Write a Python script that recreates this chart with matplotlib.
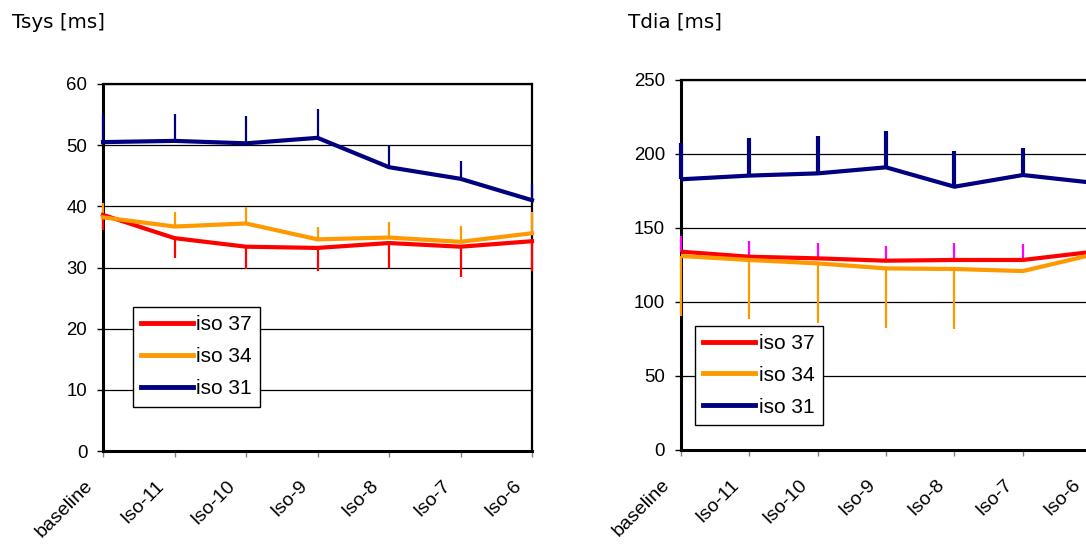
import matplotlib
matplotlib.use("Agg")
import matplotlib.pyplot as plt
import matplotlib.transforms as mtransforms
import numpy as np

categories = ["baseline", "Iso-11", "Iso-10", "Iso-9", "Iso-8", "Iso-7", "Iso-6"]
labels = ["iso 37", "iso 34", "iso 31"]
colors = ["#ff0000", "#ff9900", "#000080"]

# Tsys [ms]
tsys_37 = [38.6, 34.8, 33.4, 33.2, 34.0, 33.4, 34.3]
tsys_34 = [38.2, 36.7, 37.2, 34.6, 34.9, 34.2, 35.6]
tsys_31 = [50.5, 50.7, 50.3, 51.2, 46.4, 44.5, 41.0]
tsys_37_err_down = [2.5, 3.2, 3.7, 3.7, 4.1, 5.0, 4.8]
tsys_34_err_up = [2.4, 2.3, 2.7, 2.1, 2.6, 2.6, 3.4]
tsys_31_err_up = [4.6, 4.4, 4.4, 4.7, 3.4, 2.9, 2.6]

# Tdia [ms]
tdia_37 = [134.0, 130.6, 129.5, 127.9, 128.4, 128.4, 133.8]
tdia_34 = [131.1, 128.4, 126.1, 122.7, 122.3, 120.9, 131.8]
tdia_31 = [182.9, 185.4, 186.9, 191.0, 177.9, 185.8, 180.7]
tdia_37_err_up = [10.6, 10.6, 10.1, 10.2, 11.2, 10.8, 10.0]
tdia_34_err_down = [40.6, 40.1, 40.5, 40.0, 40.8, 0.0, 40.0]
tdia_31_err_up = [24.8, 25.2, 25.3, 24.8, 24.4, 18.0, 22.0]

W, H = 1086, 545
fig = plt.figure(figsize=(W / 100, H / 100), dpi=100)
tick_font = {"family": "Liberation Sans", "size": 13.4}
xlab_font = {"family": "Liberation Sans", "size": 14}


def style_axes(ax, ymax, ystep):
    ax.set_xlim(0, len(categories) - 1)
    ax.set_ylim(0, ymax)
    ax.set_yticks(np.arange(0, ymax + 1, ystep))
    ax.set_xticks(range(len(categories)))
    ax.set_yticklabels([str(int(v)) for v in ax.get_yticks()], fontdict=tick_font)
    ax.grid(axis="y", color="black", lw=0.9)
    ax.set_axisbelow(True)
    ax.tick_params(axis="y", length=4.3, width=1, pad=7, direction="out")
    ax.tick_params(axis="x", length=4.3, width=1, pad=3, direction="out",
                   color="#808080")
    for side in ["left", "bottom"]:
        ax.spines[side].set_linewidth(2.2)
        ax.spines[side].set_color("black")
    for side in ["top", "right"]:
        ax.spines[side].set_linewidth(1.6)
        ax.spines[side].set_color("black")
    ax.set_xticklabels(categories, rotation=45, ha="right", va="center",
                       rotation_mode="anchor", fontdict=xlab_font)
    # Excel puts the rotated labels a bit left of and below the tick
    # (done last: tick_params resets label transforms)
    shift = mtransforms.ScaledTranslation(-13 / 100, -22 / 100, fig.dpi_scale_trans)
    for lab in ax.get_xticklabels():
        lab.set_transform(lab.get_transform() + shift)


def draw_errors(ax, x, y, down, up, color, lw):
    eb = ax.errorbar(x, y, yerr=[down, up], fmt="none", ecolor=color,
                     elinewidth=lw, capsize=0, zorder=3)
    for coll in eb.lines[2]:
        coll.set_clip_on(False)


x = np.arange(len(categories))
zeros = np.zeros(len(categories))

# left panel
ax1 = fig.add_axes([103 / W, 1 - 451 / H, (532 - 103) / W, (451 - 84) / H])
draw_errors(ax1, x, tsys_31, zeros, tsys_31_err_up, colors[2], 1.6)
draw_errors(ax1, x, tsys_34, zeros, tsys_34_err_up, colors[1], 1.6)
draw_errors(ax1, x, tsys_37, tsys_37_err_down, zeros, colors[0], 1.6)
for vals, lab, col in zip([tsys_37, tsys_34, tsys_31], labels, colors):
    ax1.plot(x, vals, color=col, lw=3, label=lab, zorder=4, clip_on=False)
style_axes(ax1, 60, 10)

# right panel (cut off on the right, as in the source)
ax2 = fig.add_axes([680.7 / W, 1 - 450 / H, (1091.3 - 680.7) / W, (450 - 80) / H])
draw_errors(ax2, x, tdia_31, zeros, tdia_31_err_up, colors[2], 3.0)
draw_errors(ax2, x, tdia_37, zeros, tdia_37_err_up, "#ff00ff", 1.6)
draw_errors(ax2, x, tdia_34, tdia_34_err_down, zeros, colors[1], 1.6)
for vals, lab, col in zip([tdia_37, tdia_34, tdia_31], labels, colors):
    ax2.plot(x, vals, color=col, lw=3, label=lab, zorder=4)
style_axes(ax2, 250, 50)

leg_kw = dict(loc="lower left", borderaxespad=0, fancybox=False,
              framealpha=1, edgecolor="black", handlelength=2.5,
              handletextpad=0.15, labelspacing=0.62, borderpad=0.4,
              prop={"family": "Liberation Sans", "size": 15})
leg1 = ax1.legend(bbox_to_anchor=(0.069, 0.121), **leg_kw)
leg2 = ax2.legend(bbox_to_anchor=((695 - 680.7) / 410.6, (450 - 425) / 370), **leg_kw)
for leg in (leg1, leg2):
    leg.get_frame().set_linewidth(1.0)
    leg.set_zorder(10)
    for h in leg.get_lines():
        h.set_linewidth(3.5)

fig.text(12 / W, 1 - 28 / H, "Tsys [ms]", family="DejaVu Sans", fontsize=14.3,
         va="baseline")
fig.text(628 / W, 1 - 28 / H, "Tdia [ms]", family="DejaVu Sans", fontsize=14.3,
         va="baseline")

fig.savefig("out.png", dpi=100)
